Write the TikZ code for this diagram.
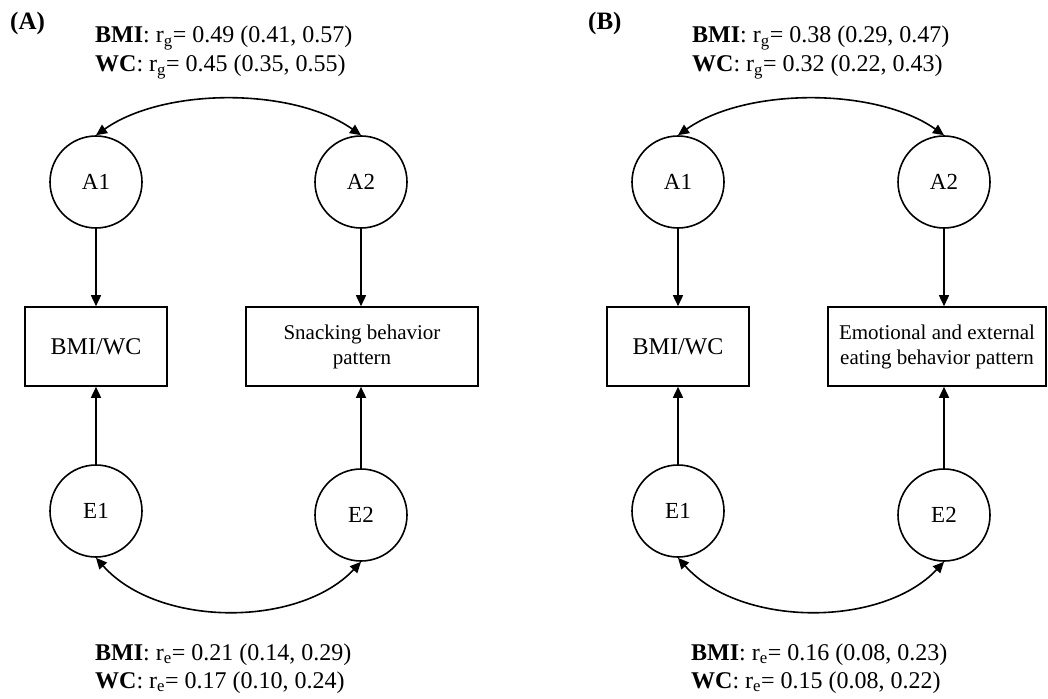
\documentclass[tikz,border=0pt]{standalone}
\usepackage{fontspec}
\setmainfont{Liberation Serif}
\usetikzlibrary{arrows.meta}
\begin{document}
\begin{tikzpicture}[x=1pt,y=-1pt,
  lat/.style={circle,draw,line width=1.6pt,minimum size=92pt,inner sep=0pt,font=\fontsize{23}{27}\selectfont},
  obs/.style={rectangle,draw,line width=1.6pt,inner sep=0pt,align=center,minimum height=79pt},
  lab/.style={anchor=base west,inner sep=0pt,font=\fontsize{24}{28}\selectfont},
  panel/.style={anchor=base west,inner sep=0pt,font=\fontsize{25}{28}\selectfont\bfseries},
  arr/.style={line width=1.6pt,-{Triangle[length=11pt,width=10pt]}},
  darr/.style={line width=1.6pt,{Triangle[length=11pt,width=10pt]}-{Triangle[length=11pt,width=10pt]}}
]
\useasboundingbox (0,0) rectangle (1048,698);
% ---------- Panel A ----------
\node[panel] (pA) at (10,30) {(A)};
\node[lab] (ta1) at (95,43) {\textbf{BMI}: r\textsubscript{g}= 0.49 (0.41, 0.57)};
\node[lab] (ta2) at (95,72) {\textbf{WC}: r\textsubscript{g}= 0.45 (0.35, 0.55)};
\node[lat] (A1a) at (96,182) {A1};
\node[lat] (A2a) at (361,182) {A2};
\node[lat] (E1a) at (96,511) {E1};
\node[lat] (E2a) at (361,515) {E2};
\node[obs,minimum width=142pt,font=\fontsize{24}{28}\selectfont] (Ma) at (96,346.5) {BMI/WC};
\node[obs,minimum width=232pt,font=\fontsize{21}{25}\selectfont] (Sa) at (362,346.5) {Snacking behavior\\pattern};
\draw[arr] (A1a.south) -- (A1a.south |- Ma.north);
\draw[arr] (A2a.south) -- (A2a.south |- Sa.north);
\draw[arr] (E1a.north) -- (E1a.north |- Ma.south);
\draw[arr] (E2a.north) -- (E2a.north |- Sa.south);
\draw[darr] (A1a.north) .. controls +(68,-48) and +(-68,-48) .. (A2a.north);
\draw[darr] (E1a.south) .. controls +(62,70) and +(-62,66) .. (E2a.south);
\node[lab] (ba1) at (95,660) {\textbf{BMI}: r\textsubscript{e}= 0.21 (0.14, 0.29)};
\node[lab] (ba2) at (95,688) {\textbf{WC}: r\textsubscript{e}= 0.17 (0.10, 0.24)};
% ---------- Panel B ----------
\node[panel] (pB) at (588,30) {(B)};
\node[lab] (tb1) at (692,43) {\textbf{BMI}: r\textsubscript{g}= 0.38 (0.29, 0.47)};
\node[lab] (tb2) at (692,72) {\textbf{WC}: r\textsubscript{g}= 0.32 (0.22, 0.43)};
\node[lat] (A1b) at (678,182) {A1};
\node[lat] (A2b) at (944,182) {A2};
\node[lat] (E1b) at (678,511) {E1};
\node[lat] (E2b) at (944,515) {E2};
\node[obs,minimum width=142pt,font=\fontsize{24}{28}\selectfont] (Mb) at (678,346.5) {BMI/WC};
\node[obs,minimum width=218pt,font=\fontsize{21}{25}\selectfont] (Sb) at (937,346.5) {Emotional and external\\eating behavior pattern};
\draw[arr] (A1b.south) -- (A1b.south |- Mb.north);
\draw[arr] (A2b.south) -- (A2b.south |- Sb.north);
\draw[arr] (E1b.north) -- (E1b.north |- Mb.south);
\draw[arr] (E2b.north) -- (E2b.north |- Sb.south);
\draw[darr] (A1b.north) .. controls +(68,-48) and +(-68,-48) .. (A2b.north);
\draw[darr] (E1b.south) .. controls +(62,70) and +(-62,66) .. (E2b.south);
\node[lab] (bb1) at (691,660) {\textbf{BMI}: r\textsubscript{e}= 0.16 (0.08, 0.23)};
\node[lab] (bb2) at (691,688) {\textbf{WC}: r\textsubscript{e}= 0.15 (0.08, 0.22)};
\end{tikzpicture}
\end{document}
